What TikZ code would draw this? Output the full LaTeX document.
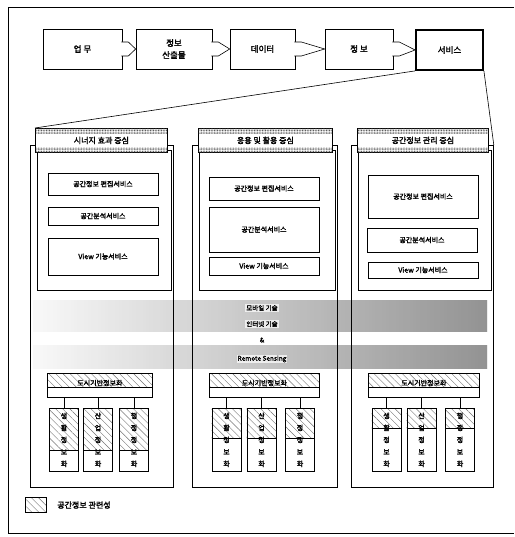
\documentclass[tikz,border=0pt]{standalone}
\usepackage{fontspec}
\setmainfont{Noto Sans CJK KR}[AutoFakeBold=2]
\usetikzlibrary{positioning,calc,patterns.meta,backgrounds}
\tikzset{
  stage/.style={draw, semithick, align=center, font=\bfseries\fontsize{8.5}{12}\selectfont, inner sep=1pt, minimum height=40pt},
  tab/.style={draw, semithick, fill=white, line join=miter},
  panel/.style={draw, thick, anchor=north west},
  inframe/.style={draw, semithick, anchor=north west},
  ptitle/.style={draw, thick, fill=white, font=\bfseries\fontsize{8}{10}\selectfont, minimum height=24pt, anchor=north west, inner sep=0pt},
  strip/.style={pattern={Dots[distance=1.6pt,radius=0.55pt]}, pattern color=black!70},
  svc/.style={draw, thick, fill=white, font=\bfseries\fontsize{7}{9}\selectfont, minimum width=110pt, inner sep=1pt},
  hatch/.style={pattern={Lines[angle=-45,distance=5pt,line width=0.4pt]}, pattern color=black!55},
  band/.style={left color=black!3, right color=black!55},
  grain/.style={pattern={Dots[distance=2pt,radius=0.6pt]}, pattern color=white},
  btxt/.style={font=\bfseries\fontsize{6.5}{8}\selectfont, fill=white, fill opacity=0.7, text opacity=1, inner sep=1pt},
  bar/.style={draw, thick, minimum height=24pt, anchor=north west},
  bartxt/.style={font=\bfseries\fontsize{7}{9}\selectfont, inner sep=0pt},
  sub/.style={draw, thick, minimum width=29pt, minimum height=63pt, anchor=north, align=center, font=\bfseries\fontsize{7}{12}\selectfont, inner sep=0pt},
  link/.style={semithick},
}

\begin{document}
\begin{tikzpicture}[x=1pt, y=-1pt]
  \useasboundingbox (0,0) rectangle (514,537);
  \draw[semithick] (514,7) -- (8,7) -- (8,533) -- (514,533);

  % --- top row
  \node[stage, minimum width=79pt] (work) at (82.5,49) {업 무};
  \node[stage, minimum width=76pt] (output) at (174,49) {정보\\산출물};
  \node[stage, minimum width=65pt] (data) at (262.5,49) {데이터};
  \node[stage, minimum width=68pt] (info) at (359,49) {정 보};
  \node[stage, minimum width=67pt, line width=1.8pt] (service) at (449.5,50) {서비스};
  \draw[tab] ($(work.east)+(-1,-7)$) -- ++(7,0) -- (output.west) -- ($(work.east)+(6,7)$) -- ++(-7,0);
  \draw[tab] ($(output.east)+(-1,-7)$) -- ++(7,0) -- (data.west) -- ($(output.east)+(6,7)$) -- ++(-7,0);
  \draw[tab] ($(data.east)+(-1,-7)$) -- ++(7,0) -- (info.west) -- ($(data.east)+(6,7)$) -- ++(-7,0);
  \draw[tab] ($(info.east)+(-1,-7)$) -- ++(7,0) -- (service.west) -- ($(info.east)+(6,7)$) -- ++(-7,0);

  % --- panels
  \node[panel, minimum width=143pt, minimum height=342pt] (p1) at (30,145) {};
  \node[panel, minimum width=145pt, minimum height=342pt] (p2) at (192,145) {};
  \node[panel, minimum width=142pt, minimum height=342pt] (p3) at (351,145) {};
  \node[inframe, minimum width=134pt, minimum height=140pt] (f1) at (37,150) {};
  \node[inframe, minimum width=136pt, minimum height=140pt] (f2) at (199,150) {};
  \node[inframe, minimum width=133pt, minimum height=140pt] (f3) at (358,150) {};
  \node[ptitle, minimum width=132pt] (h1) at (35,128) {시너지 효과 중심};
  \node[ptitle, minimum width=134pt] (h2) at (198,128) {응용 및 활용 중심};
  \node[ptitle, minimum width=131pt] (h3) at (357,128) {공간정보 관리 중심};
  \fill[strip] ($(h1.north west)+(0.5,0.5)$) rectangle ($(h1.north east)+(-0.5,6)$);
  \fill[strip] ($(h1.south west)+(0.5,-5)$) rectangle ($(h1.south east)+(-0.5,-0.5)$);
  \fill[strip] ($(h2.north west)+(0.5,0.5)$) rectangle ($(h2.north east)+(-0.5,6)$);
  \fill[strip] ($(h2.south west)+(0.5,-5)$) rectangle ($(h2.south east)+(-0.5,-0.5)$);
  \fill[strip] ($(h3.north west)+(0.5,0.5)$) rectangle ($(h3.north east)+(-0.5,6)$);
  \fill[strip] ($(h3.south west)+(0.5,-5)$) rectangle ($(h3.south east)+(-0.5,-0.5)$);
  \draw[link] (service.south west) -- (h1.north west);
  \draw[link] (service.south east) -- (p3.north east);

  % --- services
  \node[svc, minimum height=22pt] (edit1) at (103,184) {공간정보 편집서비스};
  \node[svc, minimum height=18pt] (anal1) at (103,216) {공간분석서비스};
  \node[svc, minimum height=37pt] (view1) at (103,256.5) {View 기능서비스};
  \node[svc, minimum height=23pt] (edit2) at (264,188.5) {공간정보 편집서비스};
  \node[svc, minimum height=45pt] (anal2) at (264,229.5) {공간분석서비스};
  \node[svc, minimum height=18pt] (view2) at (264,266) {View 기능서비스};
  \node[svc, minimum height=43pt] (edit3) at (423,196.5) {공간정보 편집서비스};
  \node[svc, minimum height=24pt] (anal3) at (422,240) {공간분석서비스};
  \node[svc, minimum height=16pt] (view3) at (423,270) {View 기능서비스};

  % --- technology band
  \begin{scope}[on background layer]
    \shade[band] (33,300) rectangle (487,331);
    \shade[band] (33,345) rectangle (487,368);
    \fill[grain] (33,300) rectangle (487,331);
    \fill[grain] (33,345) rectangle (487,368);
  \end{scope}
  \node[btxt] (mobile) at (262,308) {모바일 기술};
  \node[btxt] (inet) at (262,324) {인터넷 기술};
  \node[btxt] (amp) at (262,340) {\&};
  \node[btxt] (rs) at (262,359) {Remote Sensing};

  % --- city informatization
  \node[bar, minimum width=105pt] (b1) at (47,373) {};
  \node[bar, minimum width=110pt] (b2) at (209,373) {};
  \node[bar, minimum width=111pt] (b3) at (368,373) {};
  \node[bartxt] (bt1) at ($(b1.north)+(0,10)$) {도시기반정보화};
  \node[bartxt] (bt2) at ($(b2.north)+(0,10)$) {도시기반정보화};
  \node[bartxt] (bt3) at ($(b3.north)+(0,10)$) {도시기반정보화};
  \node[sub] (s11) at (64,408) {생\\활\\정\\보\\화};
  \node[sub] (s12) at (98,408) {산\\업\\정\\보\\화};
  \node[sub] (s13) at (134,408) {행\\정\\정\\보\\화};
  \node[sub] (s21) at (226.5,408) {생\\활\\정\\보\\화};
  \node[sub] (s22) at (261.5,408) {산\\업\\정\\보\\화};
  \node[sub] (s23) at (300,408) {행\\정\\정\\보\\화};
  \node[sub] (s31) at (386.5,408) {생\\활\\정\\보\\화};
  \node[sub] (s32) at (421.5,408) {산\\업\\정\\보\\화};
  \node[sub] (s33) at (460,408) {행\\정\\정\\보\\화};
  \begin{scope}[on background layer]
    \fill[hatch] (b1.north west) rectangle ($(b1.north east)+(0,14)$);
    \fill[hatch] (b2.north west) rectangle ($(b2.north east)+(0,14)$);
    \fill[hatch] (b3.north west) rectangle ($(b3.north east)+(0,14)$);
    \fill[hatch] (s11.north west) rectangle ($(s11.north east)+(0,42)$);
    \fill[hatch] (s12.north west) rectangle ($(s12.north east)+(0,42)$);
    \fill[hatch] (s13.north west) rectangle ($(s13.north east)+(0,42)$);
    \fill[hatch] (s21.north west) rectangle ($(s21.north east)+(0,30)$);
    \fill[hatch] (s22.north west) rectangle ($(s22.north east)+(0,30)$);
    \fill[hatch] (s23.north west) rectangle ($(s23.north east)+(0,30)$);
    \fill[hatch] (s31.north west) rectangle ($(s31.north east)+(0,20)$);
    \fill[hatch] (s32.north west) rectangle ($(s32.north east)+(0,20)$);
    \fill[hatch] (s33.north west) rectangle ($(s33.north east)+(0,20)$);
  \end{scope}
  \draw[link] ($(b1.north west)+(0,14)$) -- ($(b1.north east)+(0,14)$);
  \draw[link] ($(b2.north west)+(0,14)$) -- ($(b2.north east)+(0,14)$);
  \draw[link] ($(b3.north west)+(0,14)$) -- ($(b3.north east)+(0,14)$);
  \draw[link] ($(s11.north west)+(0,42)$) -- ($(s11.north east)+(0,42)$);
  \draw[link] ($(s12.north west)+(0,42)$) -- ($(s12.north east)+(0,42)$);
  \draw[link] ($(s13.north west)+(0,42)$) -- ($(s13.north east)+(0,42)$);
  \draw[link] ($(s21.north west)+(0,30)$) -- ($(s21.north east)+(0,30)$);
  \draw[link] ($(s22.north west)+(0,30)$) -- ($(s22.north east)+(0,30)$);
  \draw[link] ($(s23.north west)+(0,30)$) -- ($(s23.north east)+(0,30)$);
  \draw[link] ($(s31.north west)+(0,20)$) -- ($(s31.north east)+(0,20)$);
  \draw[link] ($(s32.north west)+(0,20)$) -- ($(s32.north east)+(0,20)$);
  \draw[link] ($(s33.north west)+(0,20)$) -- ($(s33.north east)+(0,20)$);
  \draw[link] (s11.north) -- (s11.north |- b1.south);
  \draw[link] (s12.north) -- (s12.north |- b1.south);
  \draw[link] (s13.north) -- (s13.north |- b1.south);
  \draw[link] (s21.north) -- (s21.north |- b2.south);
  \draw[link] (s22.north) -- (s22.north |- b2.south);
  \draw[link] (s23.north) -- (s23.north |- b2.south);
  \draw[link] (s31.north) -- (s31.north |- b3.south);
  \draw[link] (s32.north) -- (s32.north |- b3.south);
  \draw[link] (s33.north) -- (s33.north |- b3.south);

  % --- legend
  \node[draw, semithick, hatch, minimum width=21pt, minimum height=15pt] (key) at (36,505) {};
  \node[right=7pt of key, font=\bfseries\fontsize{8}{10}\selectfont] (keytxt) {공간정보 관련성};
\end{tikzpicture}
\end{document}
